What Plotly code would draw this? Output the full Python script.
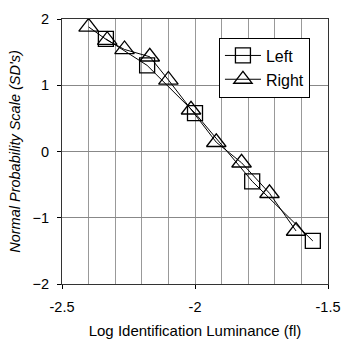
import plotly.graph_objects as go

left_x = [-2.335, -2.18, -2.0, -1.785, -1.557]
left_y = [1.70, 1.30, 0.58, -0.45, -1.35]
right_x = [-2.40, -2.33, -2.265, -2.17, -2.10, -2.015, -1.92, -1.825, -1.72, -1.62]
right_y = [1.88, 1.68, 1.54, 1.43, 1.08, 0.63, 0.14, -0.17, -0.63, -1.20]

x_ticks = [-2.5, -2.0, -1.5]
x_tick_text = ["-2.5", "-2", "-1.5"]
y_ticks = [-2, -1, 0, 1, 2]

font = "Liberation Sans, Arial, sans-serif"

fig = go.Figure()
fig.add_trace(go.Scatter(
    x=left_x, y=left_y, name="Left", mode="lines+markers", legendgroup="a",
    line=dict(color="black", width=1),
    marker=dict(symbol="square-open", size=15, color="black", line=dict(width=1.3)),
))
fig.add_trace(go.Scatter(
    x=right_x, y=right_y, name="Right", mode="lines+markers", legendgroup="b",
    line=dict(color="black", width=1),
    marker=dict(symbol="triangle-up-open", size=17, color="black", line=dict(width=1.3)),
))

fig.update_xaxes(
    range=[-2.5, -1.5], tickvals=x_ticks, ticktext=x_tick_text,
    showgrid=False, zeroline=False, automargin=False,
    minor=dict(dtick=0.1, tick0=-2.5, showgrid=True, gridcolor="#999999", gridwidth=1, ticks=""),
    ticks="outside", ticklen=4, tickcolor="black", ticklabelstandoff=6,
    showline=True, linecolor="#333333", linewidth=1, mirror=True,
    tickfont=dict(family=font, size=14.5, color="black"),
    title=dict(text="Log Identification Luminance (fl)", font=dict(family=font, size=15, color="black"), standoff=18),
)
fig.update_yaxes(
    range=[-2, 2], tickvals=y_ticks,
    showgrid=True, gridcolor="#888888", gridwidth=1, zeroline=False, automargin=False,
    ticks="outside", ticklen=4, tickcolor="black", ticklabelstandoff=5,
    showline=True, linecolor="#333333", linewidth=1, mirror=True,
    tickfont=dict(family=font, size=14.5, color="black"),
    title=dict(text="<i>Normal Probability Scale (SD's)</i>", font=dict(family=font, size=14.5, color="black"), standoff=8),
)
fig.update_layout(
    width=341, height=339,
    margin=dict(l=62, r=13, t=19, b=55),
    plot_bgcolor="white", paper_bgcolor="white",
    showlegend=True,
    legend=dict(
        x=0.59, y=0.93, xanchor="left", yanchor="top",
        bgcolor="white", bordercolor="black", borderwidth=1,
        font=dict(family=font, size=16, color="black"),
        itemwidth=36, tracegroupgap=0,
    ),
)
fig.write_html("out.html", config={"displayModeBar": False},
               post_script="document.body.style.margin='0';document.body.style.overflow='hidden';")
